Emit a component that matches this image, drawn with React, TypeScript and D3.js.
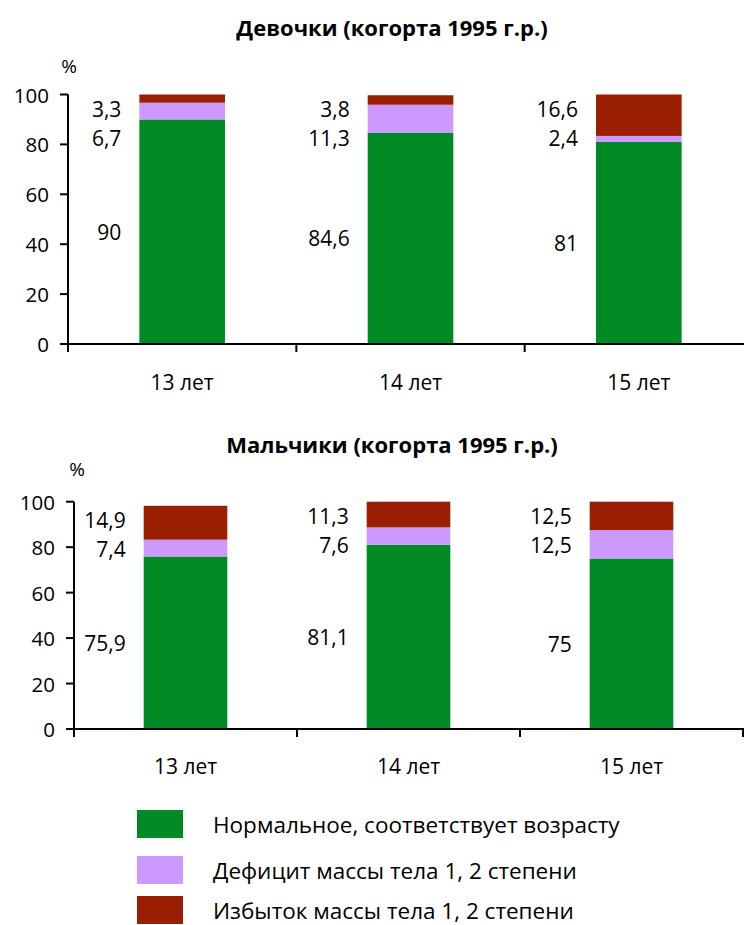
import React from 'react';
import * as d3 from 'd3';

const categories = ['13 лет', '14 лет', '15 лет'];
const seriesNames = [
  'Нормальное, соответствует возрасту',
  'Дефицит массы тела 1, 2 степени',
  'Избыток массы тела 1, 2 степени',
];
const girlsNormal = [90, 84.6, 81];
const girlsDeficit = [6.7, 11.3, 2.4];
const girlsExcess = [3.3, 3.8, 16.6];
const boysNormal = [75.9, 81.1, 75];
const boysDeficit = [7.4, 7.6, 12.5];
const boysExcess = [14.9, 11.3, 12.5];
const yTicks = [0, 20, 40, 60, 80, 100];
const titles = ['Девочки (когорта 1995 г.р.)', 'Мальчики (когорта 1995 г.р.)'];

const COLORS = ['#008A25', '#CC99FF', '#991F00'];
const FONT = "'Open Sans', 'Noto Sans', sans-serif";
const W = 744;
const H = 925;

type Layout = {
  titleY: number;
  pctX: number;
  pctY: number;
  axisX: number;
  bandEnd: number;
  y0: number;
  y100: number;
  catLabelY: number;
};

const fmt = (v: number) => String(v).replace('.', ',');

function StackChart({ title, series, layout }: { title: string; series: number[][]; layout: Layout }) {
  const x = d3.scaleBand<string>().domain(categories).range([layout.axisX, layout.bandEnd]).padding(0);
  const y = d3.scaleLinear().domain([0, 100]).range([layout.y0, layout.y100]);
  const bw = x.bandwidth() * 0.375;
  const stackData = categories.map((c, i) => ({ cat: c, s0: series[0][i], s1: series[1][i], s2: series[2][i] }));
  const stacked = d3.stack<any>().keys(['s0', 's1', 's2'])(stackData);
  const boundaries = [...categories.map((c) => x(c) as number), layout.bandEnd].filter((v) => v <= W);

  return (
    <g fontFamily={FONT}>
      <text x={392} y={layout.titleY} textAnchor="middle" dominantBaseline="central" fontWeight="bold" fontSize={22} fill="#000">
        {title}
      </text>
      <text x={layout.pctX} y={layout.pctY} textAnchor="middle" dominantBaseline="central" fontSize={19} fill="#000">
        %
      </text>
      {stacked.map((layer, si) =>
        layer.map((d, ci) => {
          const cx = (x(categories[ci]) as number) + x.bandwidth() / 2;
          return (
            <rect
              key={`${si}-${ci}`}
              x={cx - bw / 2}
              y={y(d[1])}
              width={bw}
              height={y(d[0]) - y(d[1])}
              fill={COLORS[si]}
            />
          );
        })
      )}
      {categories.map((c, ci) => {
        const cx = (x(c) as number) + x.bandwidth() / 2;
        const lx = cx - bw / 2 - 18;
        const top = y(series[0][ci] + series[1][ci] + series[2][ci]);
        const ys = [(y(0) + y(series[0][ci])) / 2, top + 43, top + 14];
        return [0, 1, 2].map((si) => (
          <text key={`l${si}-${ci}`} x={lx} y={ys[si]} textAnchor="end" dominantBaseline="central" fontSize={21} fill="#000">
            {fmt(series[si][ci])}
          </text>
        ));
      })}
      {/* y axis */}
      <line x1={layout.axisX} x2={layout.axisX} y1={y(100)} y2={y(0)} stroke="#000" strokeWidth={2} />
      {yTicks.map((t) => (
        <g key={t}>
          <line x1={layout.axisX - 8} x2={layout.axisX} y1={y(t)} y2={y(t)} stroke="#000" strokeWidth={2} />
          <text x={layout.axisX - 19} y={y(t)} textAnchor="end" dominantBaseline="central" fontSize={20.5} fill="#000">
            {t}
          </text>
        </g>
      ))}
      {/* x axis */}
      <line x1={layout.axisX - 1} x2={W} y1={y(0)} y2={y(0)} stroke="#000" strokeWidth={2} />
      {boundaries.map((b, i) => (
        <line key={i} x1={b} x2={b} y1={y(0)} y2={y(0) + 8} stroke="#000" strokeWidth={2} />
      ))}
      {categories.map((c) => (
        <text key={c} x={(x(c) as number) + x.bandwidth() / 2} y={layout.catLabelY} textAnchor="middle" dominantBaseline="central" fontSize={21} fill="#000">
          {c}
        </text>
      ))}
    </g>
  );
}

export default function App() {
  const girls = [girlsNormal, girlsDeficit, girlsExcess];
  const boys = [boysNormal, boysDeficit, boysExcess];
  const topLayout: Layout = { titleY: 27, pctX: 69, pctY: 66, axisX: 68, bandEnd: 753, y0: 344, y100: 94.5, catLabelY: 382 };
  const botLayout: Layout = { titleY: 444, pctX: 77, pctY: 469, axisX: 74, bandEnd: 743, y0: 729, y100: 501.7, catLabelY: 766 };
  const legendYs = [824, 870, 910];
  return (
    <svg width={W} height={H} style={{ position: 'absolute', left: 0, top: 0, background: '#fff' }}>
      <rect width={W} height={H} fill="#fff" />
      <StackChart title={titles[0]} series={girls} layout={topLayout} />
      <StackChart title={titles[1]} series={boys} layout={botLayout} />
      <g fontFamily={FONT}>
        {seriesNames.map((n, i) => (
          <g key={n}>
            <rect x={137} y={legendYs[i] - 14} width={46} height={28} fill={COLORS[i]} />
            <text x={213} y={legendYs[i]} dominantBaseline="central" fontSize={22.5} fill="#000">
              {n}
            </text>
          </g>
        ))}
      </g>
    </svg>
  );
}
